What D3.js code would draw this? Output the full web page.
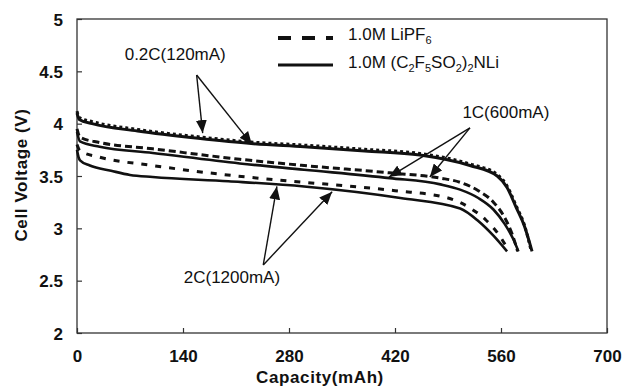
<!DOCTYPE html>
<html>
<head>
<meta charset="utf-8">
<script src="https://cdn.jsdelivr.net/npm/d3@7"></script>
<style>
    body { margin: 0; background: #fff; }
    svg { display: block; font-family: 'Liberation Sans', Arial, sans-serif; }
    .tickLab { font-size: 17px; font-weight: bold; fill: #111; }
    .axTitle { font-size: 17px; font-weight: bold; fill: #111; letter-spacing: 0.6px; }
    .annot { font-size: 17px; fill: #111; }
</style>
</head>
<body>
<div id="chart"></div>
<script>
'use strict';

// Tick values
const xTicks = [0, 140, 280, 420, 560, 700];
const yTicks = [2, 2.5, 3, 3.5, 4, 4.5, 5];

// Legend labels (_n marks a subscript digit)
const legendLabels = ['1.0M LiPF_6', '1.0M (C_2F_5SO_2)_2NLi'];

// Discharge curves [capacity mAh, voltage V]
const lipf6_02C = [[0, 4.12], [3, 4.06], [20, 4.02], [80, 3.945], [160, 3.875], [230, 3.825],
    [300, 3.795], [380, 3.755], [453, 3.715], [519, 3.615], [555, 3.515], [568, 3.405],
    [580, 3.215], [591, 3.03], [600, 2.78]];
const beti_02C = [[0, 4.10], [3, 4.04], [20, 4.00], [80, 3.93], [160, 3.86], [230, 3.81],
    [300, 3.78], [380, 3.74], [453, 3.70], [519, 3.60], [555, 3.50], [568, 3.39],
    [580, 3.20], [591, 3.02], [601, 2.78]];
const lipf6_1C = [[0, 3.95], [4, 3.87], [30, 3.82], [100, 3.76], [215, 3.66], [300, 3.60],
    [413, 3.53], [480, 3.48], [506, 3.44], [530, 3.36], [550, 3.25], [565, 3.10],
    [575, 2.94], [582, 2.78]];
const beti_1C = [[0, 3.92], [4, 3.83], [30, 3.78], [100, 3.72], [215, 3.62], [300, 3.56],
    [413, 3.48], [480, 3.42], [506, 3.37], [530, 3.29], [550, 3.18], [565, 3.04],
    [576, 2.90], [583, 2.78]];
const lipf6_2C = [[0, 3.80], [4, 3.74], [30, 3.68], [100, 3.60], [211, 3.50], [300, 3.44],
    [420, 3.36], [490, 3.29], [520, 3.19], [540, 3.08], [556, 2.95], [570, 2.79]];
const beti_2C = [[0, 3.75], [2, 3.68], [4, 3.65], [17, 3.60], [45, 3.55], [70, 3.51],
    [100, 3.49], [200, 3.45], [300, 3.40], [427, 3.29], [506, 3.19], [530, 3.07],
    [550, 2.93], [568, 2.78]];

// Rate annotations: label anchor, arrow origin, arrow tips (data units)
const rateLabels = ['0.2C(120mA)', '1C(600mA)', '2C(1200mA)'];
const labelAt = [[63, 4.61], [509, 4.05], [141, 2.48]];
const arrowFrom = [[158, 4.465], [519, 3.96], [246, 2.65]];
const arrowTips = [[[166, 3.91], [231, 3.80]], [[412, 3.49], [466, 3.49]], [[264, 3.40], [337, 3.35]]];

class DischargeChart {

    constructor(_ref) {
        this.parent = _ref;
        this.initVis();
    }

    initVis() {
        // Get this vis
        const vis = this;

        // Config
        vis.w = 624;
        vis.h = 387;
        vis.margin = {top: 19, right: 17, bottom: 54, left: 77};
        vis.gW = vis.w - (vis.margin.left + vis.margin.right);
        vis.gH = vis.h - (vis.margin.top + vis.margin.bottom);

        // Build svg
        vis.svg = d3.select(`#${vis.parent}`)
            .append('svg')
            .attr('width', vis.w)
            .attr('height', vis.h);

        // Arrow marker
        vis.svg.append('defs')
            .append('marker')
            .attr('id', 'head')
            .attr('viewBox', '0 0 13 11')
            .attr('refX', 13)
            .attr('refY', 5.5)
            .attr('markerWidth', 13)
            .attr('markerHeight', 11)
            .attr('markerUnits', 'userSpaceOnUse')
            .attr('orient', 'auto')
            .append('path')
            .attr('d', 'M0,0 L13,5.5 L0,11 Z')
            .attr('fill', '#111');

        // Build g
        vis.g = vis.svg.append('g')
            .attr('transform', `translate(${vis.margin.left},${vis.margin.top})`);

        // Scales
        vis.xScale = d3.scaleLinear()
            .domain([0, 700])
            .range([0, vis.gW]);
        vis.yScale = d3.scaleLinear()
            .domain([2, 5])
            .range([vis.gH, 0]);

        // Line maker
        vis.lineMaker = d3.line()
            .x(d => vis.xScale(d[0]))
            .y(d => vis.yScale(d[1]))
            .curve(d3.curveMonotoneX);

        vis.updateVis();
    }

    updateVis() {
        // Get this vis
        const vis = this;

        // Axes
        const xAxis = d3.axisBottom(vis.xScale)
            .tickValues(xTicks)
            .tickSizeInner(-5)
            .tickSizeOuter(0)
            .tickPadding(17)
            .tickFormat(d3.format('d'));
        const yAxis = d3.axisLeft(vis.yScale)
            .tickValues(yTicks)
            .tickSizeInner(-5)
            .tickSizeOuter(0)
            .tickPadding(14)
            .tickFormat(d => d);

        const xG = vis.g.append('g')
            .attr('transform', `translate(0,${vis.gH})`)
            .call(xAxis);
        const yG = vis.g.append('g')
            .call(yAxis);
        [xG, yG].forEach(a => {
            a.select('.domain').remove();
            a.selectAll('line').attr('stroke', '#333').attr('stroke-width', 1.2);
            a.selectAll('text').attr('class', 'tickLab').attr('font-family', null).attr('font-size', null);
        });
        yG.selectAll('text').attr('dy', '0.36em');

        // Frame
        vis.g.append('rect')
            .attr('width', vis.gW)
            .attr('height', vis.gH)
            .attr('fill', 'none')
            .attr('stroke', '#333')
            .attr('stroke-width', 1.3);

        // Axis titles
        vis.svg.append('text')
            .attr('class', 'axTitle')
            .attr('x', vis.margin.left + vis.gW / 2 - 22)
            .attr('y', 383)
            .attr('text-anchor', 'middle')
            .text('Capacity(mAh)');
        vis.svg.append('text')
            .attr('class', 'axTitle')
            .attr('transform', 'translate(27,175) rotate(-90)')
            .attr('text-anchor', 'middle')
            .text('Cell Voltage (V)');

        // Curves
        const curves = [
            {d: lipf6_2C, dash: '6,8', w: 3},
            {d: beti_2C, dash: null, w: 2.6},
            {d: lipf6_1C, dash: '7,4', w: 3},
            {d: beti_1C, dash: null, w: 2.6},
            {d: beti_02C, dash: null, w: 3},
            {d: lipf6_02C, dash: '3,3', w: 3}
        ];
        vis.g.selectAll('.curve')
            .data(curves)
            .join('path')
            .attr('class', 'curve')
            .attr('d', d => vis.lineMaker(d.d))
            .attr('fill', 'none')
            .attr('stroke', '#111')
            .attr('stroke-width', d => d.w)
            .attr('stroke-dasharray', d => d.dash);

        // Annotations
        rateLabels.forEach((lab, i) => {
            vis.g.append('text')
                .attr('class', 'annot')
                .attr('x', vis.xScale(labelAt[i][0]))
                .attr('y', vis.yScale(labelAt[i][1]))
                .text(lab);
            arrowTips[i].forEach(t => {
                vis.g.append('line')
                    .attr('x1', vis.xScale(arrowFrom[i][0]))
                    .attr('y1', vis.yScale(arrowFrom[i][1]))
                    .attr('x2', vis.xScale(t[0]))
                    .attr('y2', vis.yScale(t[1]))
                    .attr('stroke', '#111')
                    .attr('stroke-width', 1.4)
                    .attr('marker-end', 'url(#head)');
            });
        });

        // Legend
        const legG = vis.svg.append('g')
            .attr('transform', 'translate(278,38)');
        legG.append('line')
            .attr('x1', 0).attr('x2', 55)
            .attr('stroke', '#111')
            .attr('stroke-width', 4)
            .attr('stroke-dasharray', '13,11');
        legG.append('line')
            .attr('x1', 0).attr('x2', 55)
            .attr('y1', 27).attr('y2', 27)
            .attr('stroke', '#111')
            .attr('stroke-width', 3);

        // Legend text with subscripts
        const addChem = (y, label) => {
            const t = legG.append('text')
                .attr('class', 'annot')
                .attr('x', 70)
                .attr('y', y);
            let shift = 0;
            label.split(/(_\d)/).forEach(part => {
                if (part === '') return;
                if (part[0] === '_') {
                    t.append('tspan')
                        .attr('dy', 4 - shift)
                        .attr('font-size', 11)
                        .text(part.slice(1));
                    shift = 4;
                } else {
                    t.append('tspan')
                        .attr('dy', -shift)
                        .text(part);
                    shift = 0;
                }
            });
        };
        addChem(2, legendLabels[0]);
        addChem(30, legendLabels[1]);
    }
}

new DischargeChart('chart');
</script>
</body>
</html>
